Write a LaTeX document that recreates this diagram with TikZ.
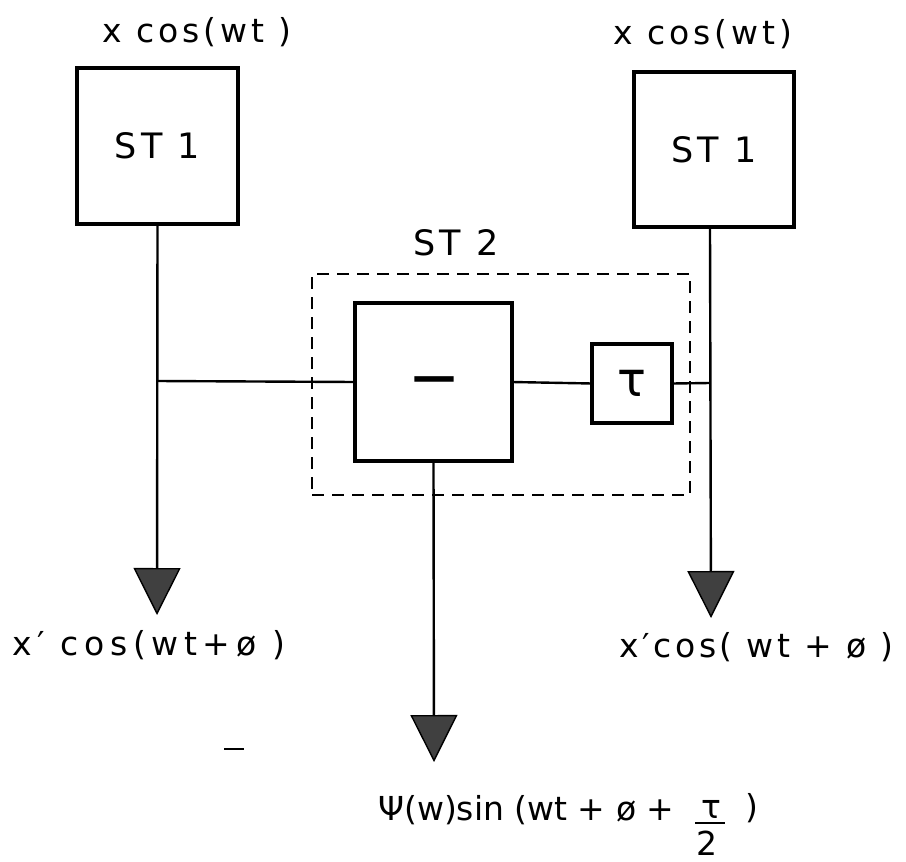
\documentclass[tikz,border=0pt]{standalone}
\usepackage{fontspec}
\setmainfont{DejaVu Sans}[LetterSpace=12]
\usetikzlibrary{arrows.meta}
\begin{document}
\begin{tikzpicture}[x=1pt,y=-1pt,
  blk/.style={draw, line width=3.2pt, rectangle, inner sep=0pt, outer sep=0pt},
  grp/.style={draw, line width=2.8pt, dash pattern=on 12pt off 8pt, rectangle, inner sep=0pt, outer sep=0pt},
  wire/.style={line width=2.4pt},
  outarrow/.style={line width=2.4pt, -{Triangle[width=47pt,length=47pt,fill=black!75,line width=1.4pt]}},
  lbl/.style={font=\fontsize{33}{38}\selectfont, inner sep=0pt},
  stlbl/.style={font=\fontsize{35}{40}\selectfont, inner sep=0pt}]
\useasboundingbox (0,0) rectangle (906,862);

% blocks
\node[blk, stlbl, minimum width=161pt, minimum height=156pt] (st1L) at (157.5,146) {ST 1};
\node[blk, stlbl, minimum width=160pt, minimum height=155pt] (st1R) at (714,149.5) {ST 1};
\node[grp, minimum width=378pt, minimum height=221pt] (st2) at (501,384.5) {};
\node[blk, minimum width=157pt, minimum height=158pt] (sub) at (433.5,382) {};
\node[font=\fontsize{44}{50}\selectfont\bfseries, inner sep=0pt] (minus) at (434,384) {—};
\node[blk, font=\fontsize{48}{50}\selectfont, minimum width=80pt, minimum height=79pt] (tau) at (632,383.5) {τ};

% labels
\node[lbl, anchor=base west] (inL) at (102,42) {x cos(wt )};
\node[lbl, anchor=base west] (inR) at (613,44) {x cos(wt)};
\node[stlbl, anchor=base west] (st2lbl) at (413,255) {ST  2};
\node[lbl, font=\fontsize{33}{38}\selectfont\addfontfeature{LetterSpace=17}, anchor=base west] (outLlbl) at (12,655) {x′  cos(wt+ø )};
\node[lbl, font=\fontsize{33}{38}\selectfont\addfontfeature{LetterSpace=11}, anchor=base west] (outRlbl) at (619,657) {x′cos( wt + ø )};
\node[lbl, font=\fontsize{33}{38}\selectfont\addfontfeature{LetterSpace=0}, anchor=base west] (outMlbl) at (378,820) {Ψ(w)sin (wt + ø + };
\node[lbl, anchor=base] (tauN) at (711,818) {τ};
\node[lbl, anchor=base] (twoD) at (707,855) {2};
\node[lbl] (closeP) at (752,808) {)};
\draw[line width=2.6pt] (695,823) coordinate (barL) -- (725,823) coordinate (barR);

% junction and output coordinates
\coordinate (jL) at (157,381);
\coordinate (jR) at (710,383);
\coordinate (tipL) at (157,615);
\coordinate (tipR) at (711,618);
\coordinate (tipM) at (434,762);

% connectors
\draw[outarrow] (st1L.south) -- (tipL);
\draw[outarrow] ([xshift=-4pt]st1R.south) -- (tipR);
\draw[outarrow] (sub.south) -- (tipM);
\draw[wire] (jL) -- (sub.west);
\draw[wire] (sub.east) -- (tau.west);
\draw[wire] (tau.east) -- (jR);

% stray mark
\draw[line width=1.5pt] (224,749) -- (244,749);
\end{tikzpicture}
\end{document}
